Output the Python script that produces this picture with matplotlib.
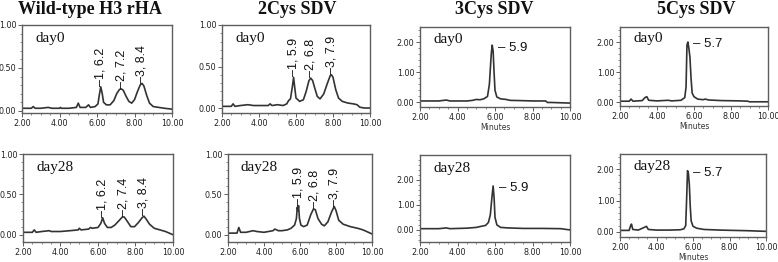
# HPLC traces, rHA / SDV stability at day 0 and day 28

import matplotlib
matplotlib.use("Agg")
import matplotlib.pyplot as plt
from matplotlib.ticker import MultipleLocator, FormatStrFormatter

W, H = 778, 262

titles = ["Wild-type H3 rHA", "2Cys SDV", "3Cys SDV", "5Cys SDV"]
days = ["day0", "day28"]

# --- day 0 traces (minutes, absorbance) ---
wt0_t = [2.0, 2.5, 2.6, 2.7, 3.0, 3.4, 3.6, 4.0, 4.05, 4.1, 4.5, 4.9, 5.0, 5.1, 5.4, 5.55, 5.65,
         5.9, 6.05, 6.12, 6.2, 6.28, 6.35, 6.5, 6.7, 6.9, 7.05, 7.2, 7.3, 7.4, 7.55, 7.7, 7.85,
         8.0, 8.15, 8.3, 8.4, 8.5, 8.65, 8.8, 9.0, 9.3, 9.6, 10.0]
wt0_y = [0.03, 0.03, 0.05, 0.03, 0.03, 0.04, 0.03, 0.03, 0.04, 0.03, 0.03, 0.04, 0.09, 0.04, 0.04, 0.07, 0.04,
         0.05, 0.08, 0.18, 0.28, 0.20, 0.10, 0.07, 0.07, 0.12, 0.20, 0.25, 0.255, 0.24, 0.17, 0.11, 0.09,
         0.13, 0.22, 0.30, 0.32, 0.29, 0.18, 0.09, 0.05, 0.04, 0.03, 0.02]

c2_0_t = [2.0, 2.5, 2.6, 2.7, 3.0, 3.4, 3.7, 4.0, 4.5, 4.6, 4.7, 5.0, 5.3, 5.5, 5.6, 5.7, 5.8, 5.87,
          5.93, 6.0, 6.2, 6.4, 6.55, 6.7, 6.8, 6.9, 7.0, 7.15, 7.3, 7.5, 7.7, 7.85, 7.92, 8.0, 8.15,
          8.3, 8.5, 8.8, 9.1, 9.3, 9.45, 9.7, 10.0]
c2_0_y = [0.02, 0.02, 0.05, 0.02, 0.03, 0.04, 0.03, 0.03, 0.03, 0.05, 0.03, 0.04, 0.03, 0.05, 0.09, 0.11, 0.25, 0.37,
          0.25, 0.12, 0.08, 0.10, 0.20, 0.33, 0.36, 0.33, 0.25, 0.14, 0.11, 0.17, 0.30, 0.39, 0.40, 0.37, 0.22,
          0.12, 0.08, 0.06, 0.05, 0.04, 0.01, 0.0, 0.0]

c3_0_t = [2.0, 3.0, 3.4, 3.6, 4.5, 4.8, 5.0, 5.2, 5.4, 5.6, 5.7, 5.8, 5.85, 5.9, 5.95, 6.0, 6.1,
          6.3, 6.6, 6.8, 7.5, 8.0, 8.7, 8.8, 9.0, 10.0]
c3_0_y = [0.05, 0.05, 0.08, 0.05, 0.05, 0.07, 0.10, 0.09, 0.12, 0.20, 0.60, 1.60, 1.90, 1.70, 1.00, 0.40, 0.18,
          0.12, 0.10, 0.07, 0.06, 0.05, 0.05, 0.0, 0.0, -0.02]

c5_0_t = [2.0, 2.5, 2.6, 2.7, 3.2, 3.35, 3.45, 3.55, 4.0, 4.6, 4.8, 5.3, 5.5, 5.57, 5.62, 5.67,
          5.72, 5.78, 5.84, 5.9, 6.0, 6.2, 6.5, 6.6, 6.8, 7.5, 8.5, 8.9, 9.0, 10.0]
c5_0_y = [0.03, 0.03, 0.10, 0.03, 0.05, 0.15, 0.18, 0.06, 0.04, 0.06, 0.04, 0.06, 0.15, 0.50, 1.90, 2.00,
          1.80, 1.50, 0.80, 0.30, 0.18, 0.10, 0.08, 0.10, 0.07, 0.05, 0.04, 0.03, 0.01, 0.01]

# --- day 28 traces ---
wt28_t = [2.0, 2.5, 2.6, 2.7, 3.0, 3.4, 3.5, 4.0, 4.5, 4.95, 5.0, 5.1, 5.5, 5.6, 5.7, 6.0, 6.15,
          6.25, 6.35, 6.5, 6.7, 6.9, 7.1, 7.3, 7.4, 7.55, 7.75, 7.95, 8.15, 8.35, 8.45, 8.55, 8.75,
          9.0, 9.3, 9.6, 10.0]
wt28_y = [0.03, 0.03, 0.06, 0.03, 0.04, 0.05, 0.04, 0.04, 0.05, 0.06, 0.08, 0.06, 0.07, 0.09, 0.08, 0.09, 0.14,
          0.21, 0.14, 0.09, 0.09, 0.12, 0.17, 0.22, 0.22, 0.17, 0.10, 0.10, 0.15, 0.21, 0.23, 0.20, 0.13,
          0.08, 0.06, 0.04, 0.0]

c2_28_t = [2.0, 2.5, 2.6, 2.7, 3.0, 3.4, 3.6, 4.0, 4.5, 4.6, 4.8, 5.0, 5.3, 5.5, 5.7, 5.8, 5.85,
           5.88, 5.92, 5.97, 6.05, 6.2, 6.4, 6.6, 6.75, 6.85, 7.0, 7.2, 7.35, 7.55, 7.75, 7.9, 8.0,
           8.15, 8.4, 8.8, 9.2, 9.5, 9.8, 10.0]
c2_28_y = [0.02, 0.02, 0.09, 0.03, 0.03, 0.05, 0.04, 0.03, 0.05, 0.07, 0.05, 0.05, 0.06, 0.08, 0.12, 0.20, 0.34,
           0.30, 0.36, 0.20, 0.12, 0.10, 0.12, 0.25, 0.32, 0.31, 0.20, 0.13, 0.11, 0.16, 0.28, 0.35, 0.30,
           0.18, 0.13, 0.10, 0.08, 0.06, 0.03, 0.01]

c3_28_t = [2.0, 3.0, 3.4, 3.6, 4.5, 5.0, 5.3, 5.5, 5.65, 5.75, 5.85, 5.9, 5.95, 6.0, 6.1, 6.3,
           6.7, 7.5, 8.5, 9.5, 9.8, 10.0]
c3_28_y = [0.05, 0.05, 0.08, 0.05, 0.07, 0.10, 0.15, 0.18, 0.30, 0.60, 1.40, 1.75, 1.30, 0.50, 0.20, 0.10,
           0.08, 0.06, 0.06, 0.05, 0.02, 0.0]

c5_28_t = [2.0, 2.5, 2.58, 2.63, 2.7, 3.0, 3.35, 3.45, 3.55, 4.0, 4.7, 5.3, 5.5, 5.6, 5.66, 5.7,
           5.75, 5.8, 5.85, 5.9, 6.0, 6.2, 6.6, 7.5, 8.2, 9.0, 10.0]
c5_28_y = [0.05, 0.05, 0.20, 0.25, 0.08, 0.06, 0.15, 0.18, 0.08, 0.06, 0.06, 0.07, 0.10, 0.20, 1.20, 1.95,
           1.85, 1.50, 0.80, 0.35, 0.18, 0.12, 0.08, 0.06, 0.05, 0.04, 0.02]

# peak labels: (time, height, text)
wt0_peaks = [(6.2, 0.28, "1, 6.2"), (7.3, 0.255, "2, 7.2"), (8.4, 0.32, "3, 8.4")]
c2_0_peaks = [(5.87, 0.37, "1, 5.9"), (6.8, 0.36, "2, 6.8"), (7.92, 0.40, "3, 7.9")]
wt28_peaks = [(6.25, 0.21, "1, 6.2"), (7.35, 0.22, "2, 7.4"), (8.45, 0.23, "3, 8.4")]
c2_28_peaks = [(5.92, 0.36, "1, 5.9"), (6.8, 0.32, "2, 6.8"), (7.9, 0.35, "3, 7.9")]
c3_0_peak = (5.85, 1.90, "5.9")
c5_0_peak = (5.67, 2.00, "5.7")
c3_28_peak = (5.9, 1.75, "5.9")
c5_28_peak = (5.7, 1.95, "5.7")

# panel boxes in pixels: left, right, top, bottom ; ylim
panels = [
    dict(box=(22, 172, 25, 113), ylim=(-0.025, 1.0), t=wt0_t, y=wt0_y, peaks=wt0_peaks, day=days[0]),
    dict(box=(222, 370, 25, 113), ylim=(-0.06, 1.0), t=c2_0_t, y=c2_0_y, peaks=c2_0_peaks, day=days[0]),
    dict(box=(420, 570, 27, 107), ylim=(-0.15, 2.5), t=c3_0_t, y=c3_0_y, peak=c3_0_peak, day=days[0], xlab=True),
    dict(box=(620, 768, 27, 106), ylim=(-0.13, 2.5), t=c5_0_t, y=c5_0_y, peak=c5_0_peak, day=days[0], xlab=True),
    dict(box=(23, 173, 154, 242), ylim=(-0.09, 1.0), t=wt28_t, y=wt28_y, peaks=wt28_peaks, day=days[1]),
    dict(box=(228, 372, 154, 242), ylim=(-0.09, 1.0), t=c2_28_t, y=c2_28_y, peaks=c2_28_peaks, day=days[1]),
    dict(box=(420, 570, 155, 242), ylim=(-0.48, 2.98), t=c3_28_t, y=c3_28_y, peak=c3_28_peak, day=days[1]),
    dict(box=(620, 766, 154, 237), ylim=(-0.16, 2.48), t=c5_28_t, y=c5_28_y, peak=c5_28_peak, day=days[1], xlab=True),
]

plt.rcParams['font.family'] = ['DejaVu Sans']
fig = plt.figure(figsize=(W / 100, H / 100), dpi=100)

frame_col = '#5e5e5e'
line_col = '#333333'

for p in panels:
    l, r, t, b = p['box']
    ax = fig.add_axes([l / W, 1 - b / H, (r - l) / W, (b - t) / H])
    ax.plot(p['t'], p['y'], color=line_col, lw=1.2)
    ax.set_xlim(2, 10)
    ax.set_ylim(*p['ylim'])
    ax.set_xticks([2, 4, 6, 8, 10])
    ax.xaxis.set_minor_locator(MultipleLocator(0.5))
    ax.xaxis.set_major_formatter(FormatStrFormatter('%.2f'))
    ax.yaxis.set_major_formatter(FormatStrFormatter('%.2f'))
    if p['ylim'][1] <= 1.0:
        ax.set_yticks([0, 0.5, 1.0])
        ax.yaxis.set_minor_locator(MultipleLocator(0.1))
    else:
        ax.set_yticks([0, 1, 2])
        ax.yaxis.set_minor_locator(MultipleLocator(0.2))
    ax.tick_params(which='major', direction='out', length=3, width=0.7, color=frame_col,
                   labelsize=5.8, pad=1, labelcolor='#222222')
    ax.tick_params(which='minor', direction='out', length=1.5, width=0.5, color=frame_col)
    for s in ax.spines.values():
        s.set_color(frame_col)
        s.set_linewidth(1.0)
    if p.get('xlab'):
        ax.set_xlabel('Minutes', fontsize=5.5, labelpad=1, color='#333333')

    ax.text(0.09, 0.85, p['day'], transform=ax.transAxes, family='Liberation Serif',
            fontsize=11, va='center', ha='left', color='#111111')

    if 'peaks' in p:
        for pt, py, lab in p['peaks']:
            ax.text(pt, py + 0.01, '\u2013' + lab, rotation=90, ha='center', va='bottom',
                    fontsize=9, family='Liberation Sans', color='#111111')
    else:
        pt, py, lab = p['peak']
        ax.text(pt + 0.3, py - 0.08, '\u2013 ' + lab, ha='left', va='center',
                fontsize=9.5, family='Liberation Sans', color='#111111')

# column titles
title_x = [90, 297, 494, 696]
for i, s in enumerate(titles):
    fig.text(title_x[i] / W, 1 - 10 / H, s, ha='center', va='center', family='Liberation Serif',
             fontsize=13, fontweight='bold', color='#111111')

fig.savefig('out.png', dpi=100)
